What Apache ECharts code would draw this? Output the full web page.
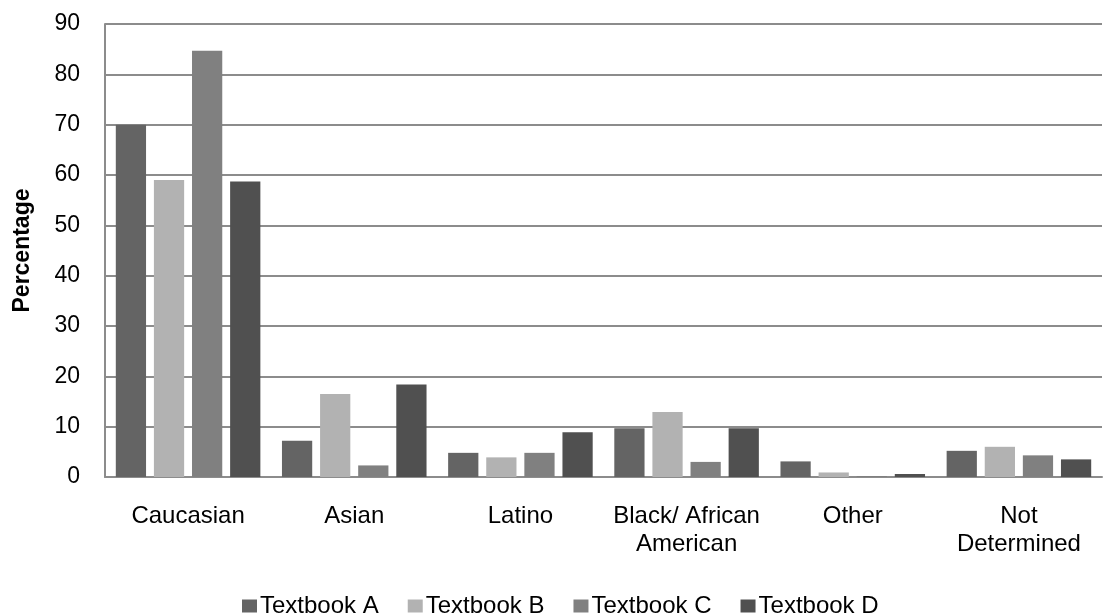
<!DOCTYPE html>
<html>
<head>
<meta charset="utf-8">
<script src="https://cdn.jsdelivr.net/npm/echarts@6/dist/echarts.min.js"></script>
<style>html,body{margin:0;padding:0;background:#fff}#c{width:1103px;height:616px}</style>
</head>
<body>
<div id="c"></div>
<script>
const categories = ['Caucasian', 'Asian', 'Latino', 'Black/ African\nAmerican', 'Other', 'Not\nDetermined'];
const textbookA = [70, 7.2, 4.8, 9.7, 3.1, 5.2];
const textbookB = [59, 16.5, 3.9, 12.9, 0.9, 6.0];
const textbookC = [84.7, 2.3, 4.8, 3.0, 0.2, 4.3];
const textbookD = [58.7, 18.4, 8.9, 9.7, 0.6, 3.5];
const seriesNames = ['Textbook A', 'Textbook B', 'Textbook C', 'Textbook D'];
const colors = ['#646464', '#b2b2b2', '#808080', '#505050'];
const yTicks = {min: 0, max: 90, interval: 10};

const font = 'Liberation Sans, Arial, sans-serif';
const chart = echarts.init(document.getElementById('c'));
const data = [textbookA, textbookB, textbookC, textbookD];
chart.setOption({
  animation: false,
  color: colors,
  grid: {left: 105, right: 1, top: 24, bottom: 139, containLabel: false},
  legend: {
    left: 237, top: 589,
    icon: 'rect', itemWidth: 15, itemHeight: 13, itemGap: 29,
    textStyle: {fontFamily: font, fontSize: 24, color: '#000', padding: [0,0,0,-2]},
    data: seriesNames
  },
  xAxis: {
    type: 'category', data: categories,
    axisLine: {lineStyle: {color: '#8c8c8c', width: 2}},
    axisTick: {show: false},
    axisLabel: {fontFamily: font, fontSize: 24, color: '#000', margin: 25, lineHeight: 28, interval: 0}
  },
  yAxis: {
    type: 'value', min: yTicks.min, max: yTicks.max, interval: yTicks.interval,
    name: 'Percentage', nameLocation: 'middle', nameGap: 71, nameRotate: 90,
    nameTextStyle: {fontFamily: font, fontSize: 23, fontWeight: 'bold', color: '#000'},
    axisLine: {show: true, lineStyle: {color: '#8c8c8c', width: 2}},
    axisTick: {show: false},
    axisLabel: {fontFamily: font, fontSize: 23, color: '#000', margin: 25},
    splitLine: {lineStyle: {color: '#8c8c8c', width: 2}}
  },
  series: seriesNames.map((n, i) => ({
    name: n, type: 'bar', data: data[i],
    barGap: '26%', barCategoryGap: '13%',
    itemStyle: {color: colors[i]}
  }))
});
</script>
</body>
</html>
